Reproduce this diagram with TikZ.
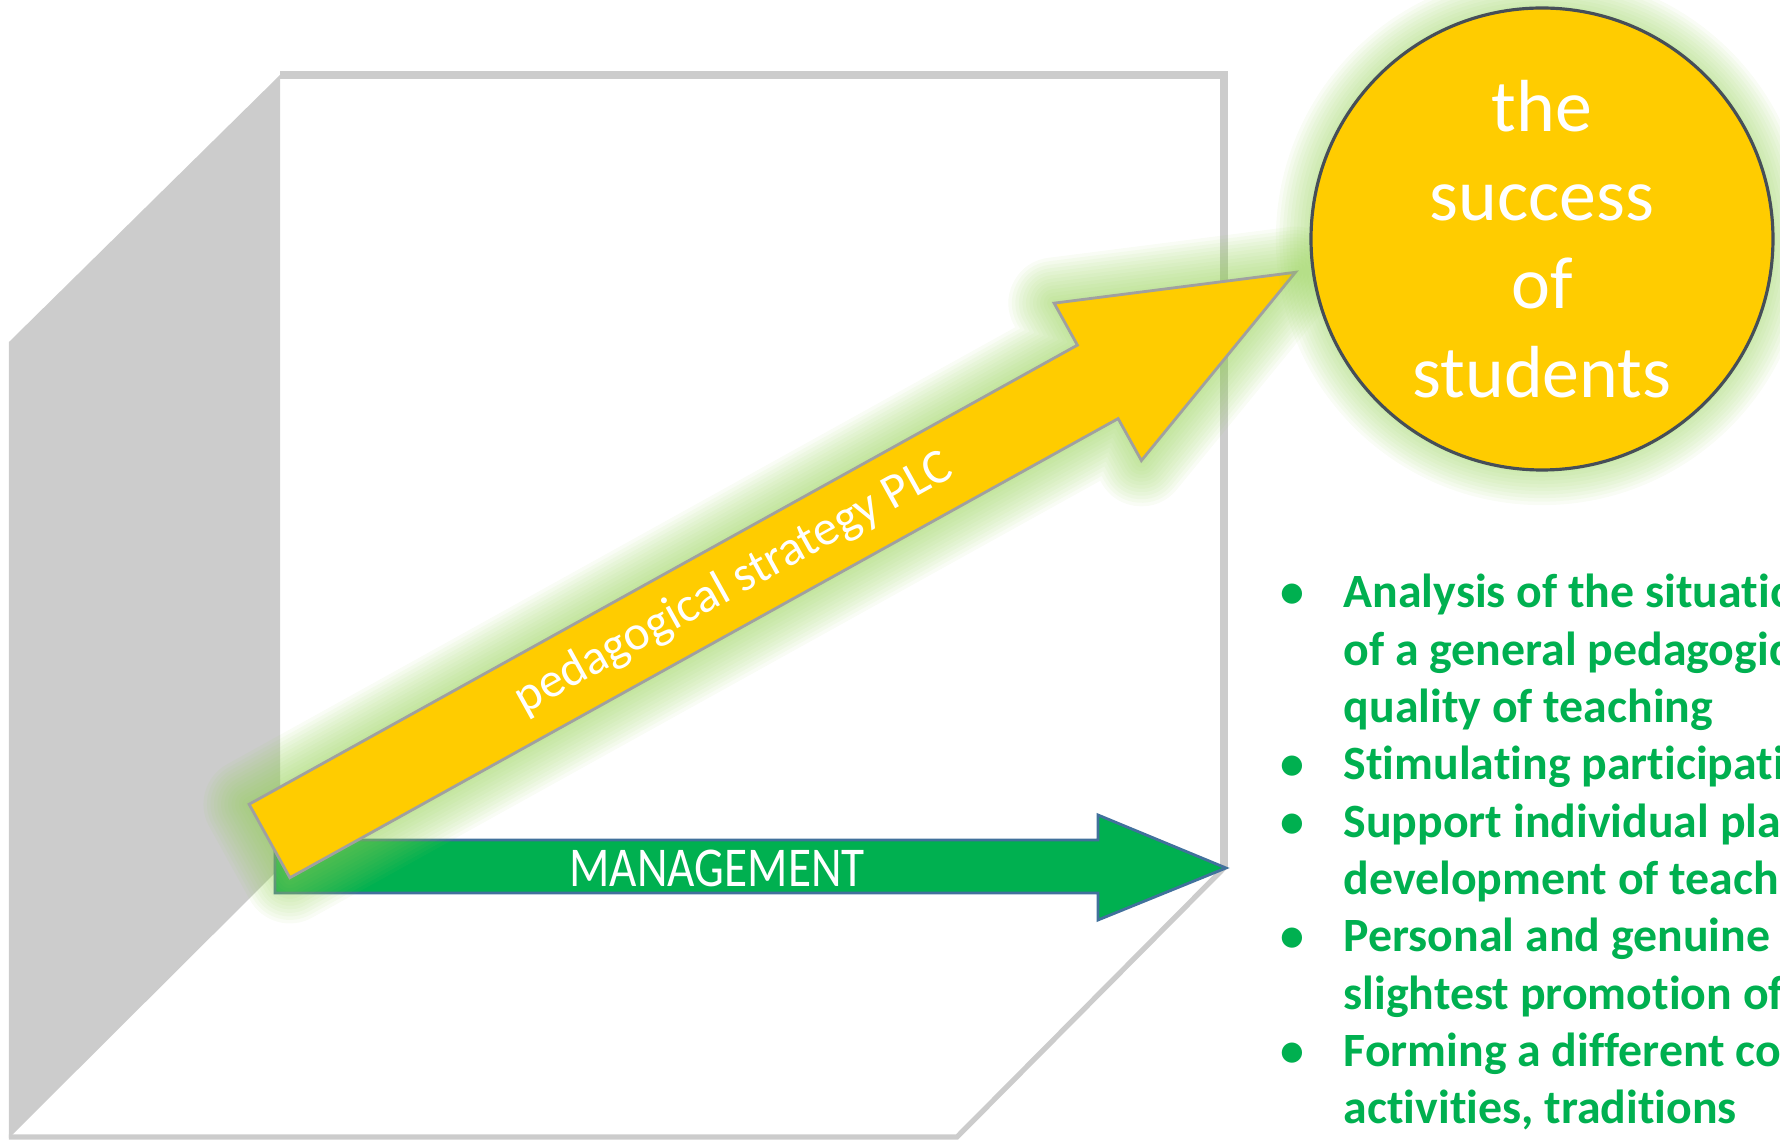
\documentclass[tikz,border=0pt]{standalone}
\usepackage{fontspec}
\setmainfont{Carlito}[Ligatures=NoCommon]
\usepackage{tikz}
\usetikzlibrary{calc}
\usepackage{xcolor}
\usepackage{graphicx}
\definecolor{wallgray}{RGB}{204,204,204}
\definecolor{mgmtgreen}{RGB}{0,176,80}
\definecolor{edgeblue}{RGB}{65,113,156}
\definecolor{gold}{RGB}{255,204,0}
\definecolor{glowgreen}{RGB}{146,208,80}
\definecolor{bevelgray}{RGB}{160,160,160}
\definecolor{ringedge}{RGB}{70,78,88}

\tikzset{
  glow/.style={draw=glowgreen, line join=round, opacity=0.06},
  goldshape/.style={fill=gold, draw=bevelgray, line width=0.8pt},
  whitetext/.style={text=white, inner sep=0pt}
}

\begin{document}
\begin{tikzpicture}
              \useasboundingbox (0,0) rectangle (17.8,-11.41);
              \clip (0,0) rectangle (17.8,-11.41);
              % corner: left wall, back wall, floor
              \fill[wallgray] (2.80,-0.75) -- (0.09,-3.42) -- (0.09,-11.38) -- (2.80,-8.68) -- cycle;
              \draw[wallgray, line width=2.3pt] (2.80,-0.75) -- (12.24,-0.75) -- (12.24,-8.68);
              \draw[wallgray, line width=1.5pt] (12.24,-8.68) -- (9.57,-11.37) -- (0.09,-11.37);
              % management arrow
              \filldraw[fill=mgmtgreen, draw=edgeblue, line width=0.8pt]
                (2.75,-8.40) -- (10.98,-8.40) -- (10.98,-8.15) -- (12.26,-8.68)
                -- (10.98,-9.20) -- (10.98,-8.93) -- (2.75,-8.93) -- cycle;
              \node[whitetext, font=\fontsize{16}{19}\selectfont] (mgmt) at (7.17,-8.68)
                {\scalebox{0.84}[1]{MANAGEMENT}};
              % pedagogical arrow
              \begin{scope}[shift={(2.695,-8.41)}, rotate=29]
                \foreach \w in {2,4,...,26}
                  \draw[glow, line width=\w pt] (0,0.42) -- (9.47,0.42) -- (9.47,0.90) -- (11.73,0)
                    -- (9.47,-0.90) -- (9.47,-0.42) -- (0,-0.42) -- cycle;
                \filldraw[goldshape] (0,0.42) -- (9.47,0.42) -- (9.47,0.90) -- (11.73,0)
                    -- (9.47,-0.90) -- (9.47,-0.42) -- (0,-0.42) -- cycle;
                \node[whitetext, rotate=29, font=\fontsize{14}{17}\selectfont] (plc) at (5.31,0)
                  {pedagogical strategy PLC};
              \end{scope}
              % goal circle
              \foreach \w in {2,4,...,20}
                \draw[glow, line width=\w pt] (15.42,-2.39) circle (2.31);
              \node[circle, fill=gold, draw=ringedge, line width=0.9pt, minimum size=4.62cm,
                inner sep=0pt, text=white, align=center, font=\fontsize{21}{25.2}\selectfont]
                (goal) at (15.42,-2.39) {the\\success\\of\\students};
              % list of tasks
              \node[anchor=base west, inner sep=0pt, text=mgmtgreen,
                font=\fontsize{13.6}{16.3}\selectfont\bfseries] (tasks) at (12.80,-6.08) {%
                \begin{tabular}[t]{@{}p{0.63cm}@{}l@{}}
                \textbullet & Analysis of the situatio\\
                 & of a general pedagogic\\
                 & quality of teaching\\
                \textbullet & Stimulating participati\\
                \textbullet & Support individual pla\\
                 & development of teach\\
                \textbullet & Personal and genuine\\
                 & slightest promotion of\\
                \textbullet & Forming a different co\\
                 & activities, traditions
                \end{tabular}};
            \end{tikzpicture}
\end{document}
